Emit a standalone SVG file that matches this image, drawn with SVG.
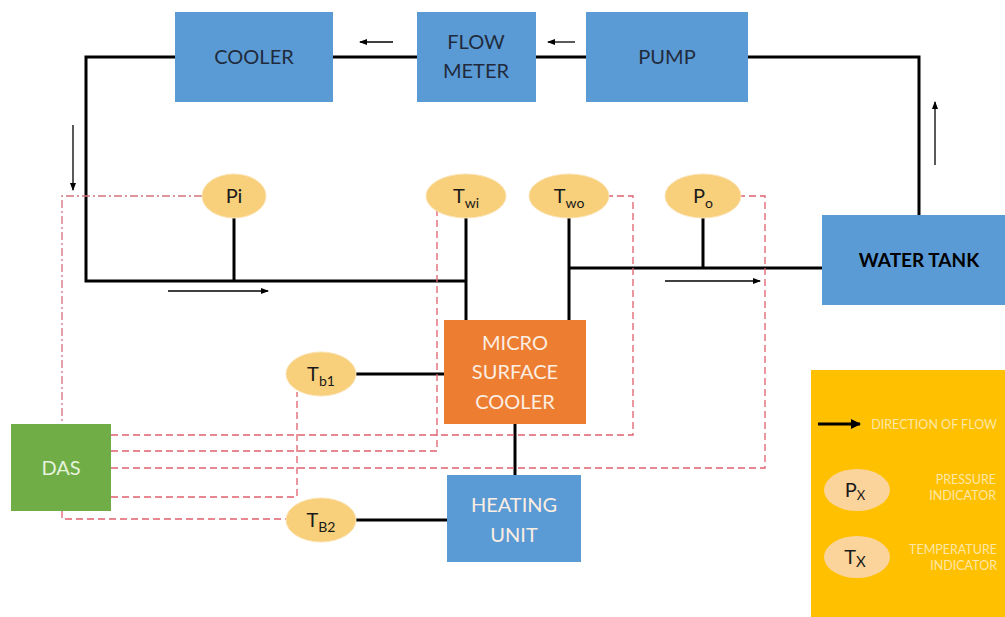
<svg xmlns="http://www.w3.org/2000/svg" width="1005" height="617" viewBox="0 0 1005 617">
<style>
.blue{fill:#5b9bd5}
.lbl{font-family:Lato,"Open Sans",sans-serif;font-size:20px;fill:#1f2b3c;text-anchor:middle}
.wlbl{font-family:Lato,"Open Sans",sans-serif;font-size:20px;fill:#fbeee2;text-anchor:middle}
.pipe{stroke:#000;stroke-width:3;fill:none}
.flow{stroke:#000;stroke-width:1.3;fill:none;marker-end:url(#ah)}
.sig{stroke:#e0606e;stroke-width:1.3;fill:none;stroke-dasharray:7,4}
.sigdd{stroke:#d4707e;stroke-width:1.3;fill:none;stroke-dasharray:8,3,2,3}
.sens{fill:#f8cf7a;stroke:#fbe3b5;stroke-width:1}
.st{font-family:Lato,"Open Sans",sans-serif;font-size:20px;fill:#1a1a1a;text-anchor:middle}
.leg{font-family:Lato,"Open Sans",sans-serif;font-size:12.5px;fill:#ffe7a8;text-anchor:end}
</style>
<defs>
<marker id="ah" markerWidth="8" markerHeight="6" refX="7" refY="3" orient="auto" markerUnits="userSpaceOnUse"><path d="M0,0 L8,3 L0,6 Z" fill="#000"/></marker>
<marker id="ahb" markerWidth="10" markerHeight="10" refX="9" refY="5" orient="auto" markerUnits="userSpaceOnUse"><path d="M0,0 L10,5 L0,10 Z" fill="#000"/></marker>
</defs>
<rect width="1005" height="617" fill="#fff"/>
<g id="connectors">
<path class="pipe" d="M175,57 H86 V281 H466"/>
<path class="pipe" d="M333,57 H417"/>
<path class="pipe" d="M536,57 H586"/>
<path class="pipe" d="M748,57 H919 V215"/>
<path class="pipe" d="M234,218 V281"/>
<path class="pipe" d="M466,218 V320"/>
<path class="pipe" d="M569,218 V320"/>
<path class="pipe" d="M569,268 H822"/>
<path class="pipe" d="M703,218 V268"/>
<path class="pipe" d="M356,374 H444"/>
<path class="pipe" d="M515,424 V475"/>
<path class="pipe" d="M356,520 H447"/>
<path class="flow" d="M393,42 H360"/>
<path class="flow" d="M575,42 H548"/>
<path class="flow" d="M73,125 V190"/>
<path class="flow" d="M168,291 H268"/>
<path class="flow" d="M665,281 H760"/>
<path class="flow" d="M935,165 V102"/>
<path class="sigdd" d="M202,196 H62 V424"/>
<path class="sig" d="M62,511 V519 H286"/>
<path class="sig" d="M111,497 H297 V392"/>
<path class="sig" d="M111,451 H437 V206"/>
<path class="sig" d="M111,435 H633 V196 H609"/>
<path class="sig" d="M111,468 H765 V196 H741"/>
</g>
<g id="cooler"><rect class="blue" x="175" y="12" width="158" height="90"/><text class="lbl" x="254" y="64">COOLER</text></g>
<g id="flowmeter"><rect class="blue" x="417" y="12" width="119" height="90"/><text class="lbl" x="476" y="49">FLOW</text><text class="lbl" x="476" y="78">METER</text></g>
<g id="pump"><rect class="blue" x="586" y="12" width="162" height="90"/><text class="lbl" x="667" y="64">PUMP</text></g>
<g id="watertank"><rect class="blue" x="822" y="215" width="183" height="90"/><text x="919" y="267" font-family="Lato,'Open Sans',sans-serif" font-size="19" font-weight="bold" fill="#000" text-anchor="middle">WATER TANK</text></g>
<g id="msc"><rect x="444" y="320" width="142" height="104" fill="#ed7d31"/><text class="wlbl" x="515" y="350">MICRO</text><text class="wlbl" x="515" y="379">SURFACE</text><text class="wlbl" x="515" y="409">COOLER</text></g>
<g id="heating"><rect class="blue" x="447" y="475" width="134" height="87"/><text class="wlbl" x="514" y="512">HEATING</text><text class="wlbl" x="514" y="542">UNIT</text></g>
<g id="das"><rect x="11" y="424" width="100" height="87" fill="#70ad47"/><text x="61" y="475" font-family="Lato,'Open Sans',sans-serif" font-size="20" fill="#e6f2dc" text-anchor="middle">DAS</text></g>
<g id="pi"><ellipse class="sens" cx="234" cy="196" rx="32" ry="22"/><text class="st" x="234" y="203">Pi</text></g>
<g id="twi"><ellipse class="sens" cx="466" cy="196" rx="40" ry="22"/><text class="st" x="466" y="203">T<tspan font-size="14" dy="5">wi</tspan></text></g>
<g id="two"><ellipse class="sens" cx="569" cy="196" rx="40" ry="22"/><text class="st" x="569" y="203">T<tspan font-size="14" dy="5">wo</tspan></text></g>
<g id="po"><ellipse class="sens" cx="703" cy="196" rx="38" ry="22"/><text class="st" x="703" y="203">P<tspan font-size="14" dy="5">o</tspan></text></g>
<g id="tb1"><ellipse class="sens" cx="321" cy="374" rx="35" ry="22"/><text class="st" x="321" y="381">T<tspan font-size="14" dy="5">b1</tspan></text></g>
<g id="tb2"><ellipse class="sens" cx="321" cy="520" rx="35" ry="22"/><text class="st" x="321" y="527">T<tspan font-size="14" dy="5">B2</tspan></text></g>
<g id="legend">
<rect x="811" y="370" width="194" height="247" fill="#ffc000"/>
<path d="M818,424 H860" stroke="#000" stroke-width="3" marker-end="url(#ahb)"/>
<text class="leg" x="997" y="429">DIRECTION OF FLOW</text>
<ellipse cx="857" cy="490" rx="33" ry="21" fill="#fad49a"/>
<text class="st" x="855" y="497">P<tspan font-size="13" dy="3">X</tspan></text>
<text class="leg" x="996" y="484">PRESSURE</text><text class="leg" x="996" y="500">INDICATOR</text>
<ellipse cx="857" cy="557" rx="33" ry="21" fill="#fad49a"/>
<text class="st" x="855" y="564">T<tspan font-size="15" dy="3">X</tspan></text>
<text class="leg" x="997" y="554">TEMPERATURE</text><text class="leg" x="997" y="570">INDICATOR</text>
</g>
</svg>
